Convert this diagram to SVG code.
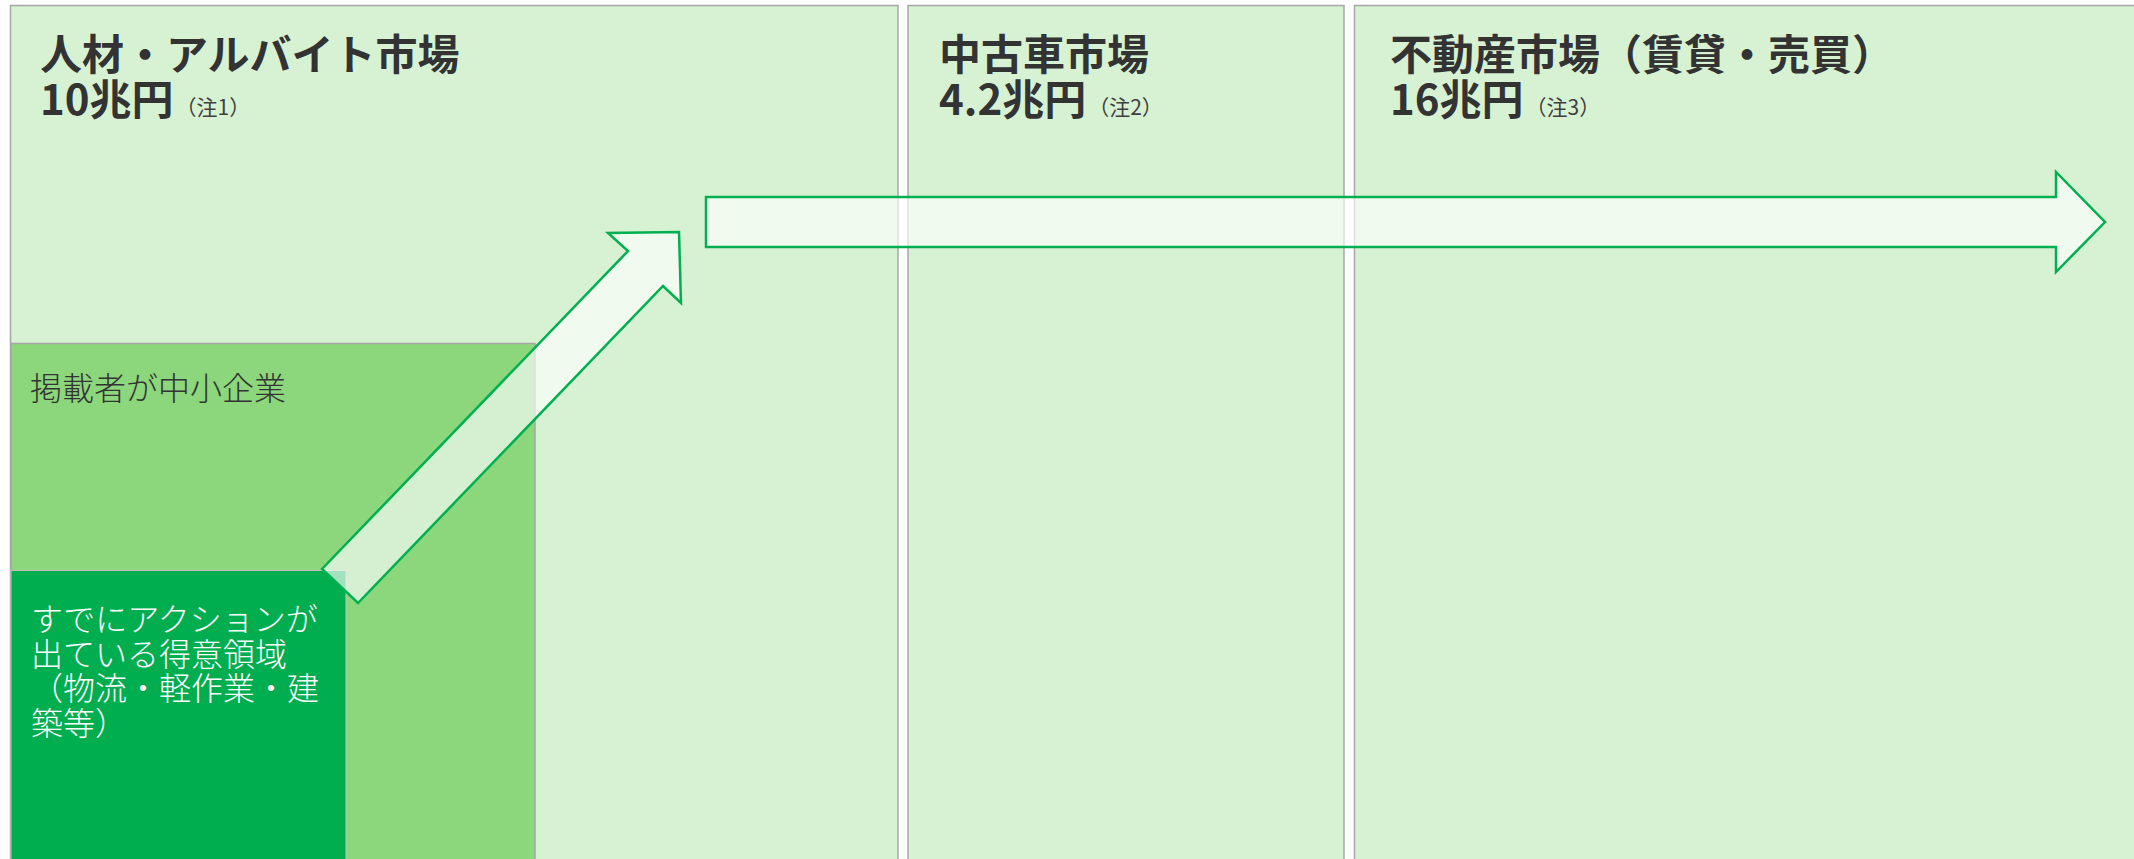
<svg xmlns="http://www.w3.org/2000/svg" width="2134" height="859" viewBox="0 0 2134 859">
  <style>
    .panel { fill: #D7F2D3; stroke: #A6A6A6; stroke-width: 1.5; }
    .title { font-family: "Noto Sans CJK JP", "Noto Sans", sans-serif; font-size: 42px; font-weight: bold; fill: #333333; }
    .note { font-size: 21px; font-weight: normal; fill: #404040; }
    .body { font-family: "Noto Sans CJK JP", "Noto Sans", sans-serif; font-size: 32px; font-weight: 300; }
    .arrow { fill: #FFFFFF; fill-opacity: 0.64; stroke: #00B050; stroke-width: 2.5; stroke-linejoin: miter; }
  </style>
  <rect x="0" y="0" width="2134" height="859" fill="#FFFFFF"/>

  <g id="panel-jinzai">
    <rect class="panel" x="10.5" y="5.5" width="887.5" height="900"/>
    <text class="title"><tspan x="40" y="70">人材・アルバイト市場</tspan><tspan x="40" y="115">10兆円</tspan><tspan class="note" dx="2">（注1）</tspan></text>
  </g>

  <g id="panel-chukosha">
    <rect class="panel" x="908" y="5.5" width="436" height="900"/>
    <text class="title"><tspan x="939" y="70">中古車市場</tspan><tspan x="939" y="115">4.2兆円</tspan><tspan class="note" dx="2">（注2）</tspan></text>
  </g>

  <g id="panel-fudosan">
    <rect class="panel" x="1354.5" y="5.5" width="900" height="900"/>
    <text class="title"><tspan x="1390" y="70">不動産市場（賃貸・売買）</tspan><tspan x="1390" y="115">16兆円</tspan><tspan class="note" dx="2">（注3）</tspan></text>
  </g>

  <g id="box-chusho">
    <rect x="11" y="343.5" width="524" height="600" fill="#8CD67C" stroke="#A6A6A6" stroke-width="1.5"/>
    <text class="body" x="30" y="400" fill="#333333">掲載者が中小企業</text>
  </g>

  <g id="box-tokui">
    <rect x="11" y="570.5" width="335" height="400" fill="#00AD4F" stroke="#BFBFBF" stroke-width="1"/>
    <text class="body" fill="#FFFFFF">
      <tspan x="31" y="631">すでにアクションが</tspan>
      <tspan x="31" y="666">出ている得意領域</tspan>
      <tspan x="31" y="700">（物流・軽作業・建</tspan>
      <tspan x="31" y="735">築等）</tspan>
    </text>
  </g>

  <g id="connectors">
    <polygon id="arrow-diagonal" class="arrow" points="322,569 628,251 608,233 679,232 681,303 663,286 358,603"/>
    <polygon id="arrow-horizontal" class="arrow" points="706,197 2056,197 2056,172 2105,222 2056,272 2056,247 706,247"/>
  </g>
</svg>
